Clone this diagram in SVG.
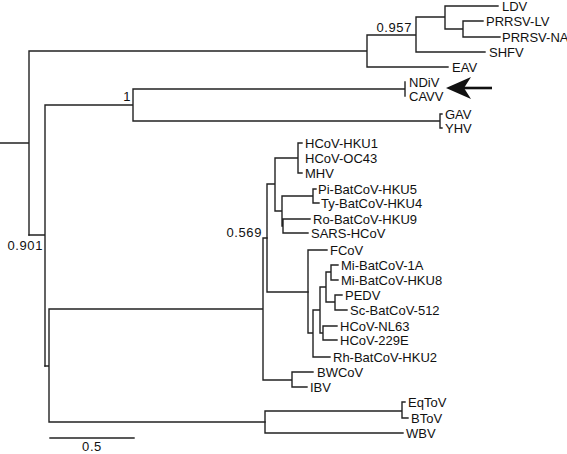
<svg xmlns="http://www.w3.org/2000/svg" width="567" height="454" viewBox="0 0 567 454">
<style>
.e{fill:none;stroke:#222;stroke-width:1.4;stroke-linecap:square}
.t{font-family:"Liberation Sans",Arial,sans-serif;font-size:13px;fill:#111}
.s{font-family:"Liberation Sans",Arial,sans-serif;font-size:13px;fill:#111;letter-spacing:0.6px}
</style>
<rect width="567" height="454" fill="#fff"/>
<g id="connectors">
<path class="e" d="M0,143H29M29,51V235M29,51H367M367,35V67M367,35H416M367,67H448M416,17V52M416,17H445M416,52H485M445,6V29M445,6H498M445,29H463M463,21V37M463,21H483M463,37H500"/>
<path class="e" d="M29,235H45M45,105V366M45,105H133M133,89V121M133,89H405M405,82V96M133,121H440M440,114V128M440,114H442M440,128H442"/>
<path class="e" d="M45,366H49M49,309V422M49,309H263M49,422H265M263,238V380M263,238H267M263,380H292M292,372V387M292,372H313M292,387H307"/>
<path class="e" d="M267,184V292M267,184H275M267,292H308M275,158V211M275,158H298M275,211H282M298,143V173M298,143H302M298,173H302M282,196V226M282,196H313M282,226H283M283,219V233M283,219H310M283,233H308M313,189V203M313,189H316M313,203H319"/>
<path class="e" d="M308,250V333M308,250H327M308,333H313M313,310V357M313,357H330M313,310H320M320,287V333M320,287H326M320,333H323M326,272V302M326,272H331M326,302H335M331,265V280M331,265H338M331,280H338M335,295V310M335,295H342M335,310H347M323,326V340M323,326H337M323,340H337"/>
<path class="e" d="M265,411V433M265,411H402M265,433H403M402,402V418M402,402H405M402,418H408"/>
<path class="e" d="M50,438H134"/>
<path fill="none" stroke="#111" stroke-width="2.6" d="M463,88H492"/>
<polygon fill="#111" points="446,88 471,77 464,88 471,99"/>
</g>
<g id="support">
<text class="s" x="412" y="32" text-anchor="end">0.957</text>
<text class="s" x="131" y="101" text-anchor="end">1</text>
<text class="s" x="262" y="237" text-anchor="end">0.569</text>
<text class="s" x="43" y="250" text-anchor="end">0.901</text>
<text class="s" x="92" y="450.5" text-anchor="middle">0.5</text>
</g>
<g id="LDV"><text class="t" x="502" y="11">LDV</text></g>
<g id="PRRSV-LV"><text class="t" x="486" y="25.5">PRRSV-LV</text></g>
<g id="PRRSV-NA"><text class="t" x="502" y="41.5">PRRSV-NA</text></g>
<g id="SHFV"><text class="t" x="489" y="56.5">SHFV</text></g>
<g id="EAV"><text class="t" x="452" y="71.5">EAV</text></g>
<g id="NDiV"><text class="t" x="409" y="86.5">NDiV</text></g>
<g id="CAVV"><text class="t" x="409" y="101">CAVV</text></g>
<g id="GAV"><text class="t" x="445" y="118.5">GAV</text></g>
<g id="YHV"><text class="t" x="445" y="133">YHV</text></g>
<g id="HCoV-HKU1"><text class="t" x="305" y="147.5">HCoV-HKU1</text></g>
<g id="HCoV-OC43"><text class="t" x="305" y="162.5">HCoV-OC43</text></g>
<g id="MHV"><text class="t" x="305" y="177.5">MHV</text></g>
<g id="Pi-BatCoV-HKU5"><text class="t" x="318" y="193.5">Pi-BatCoV-HKU5</text></g>
<g id="Ty-BatCoV-HKU4"><text class="t" x="321" y="207.5">Ty-BatCoV-HKU4</text></g>
<g id="Ro-BatCoV-HKU9"><text class="t" x="313" y="223.5">Ro-BatCoV-HKU9</text></g>
<g id="SARS-HCoV"><text class="t" x="311" y="237.5">SARS-HCoV</text></g>
<g id="FCoV"><text class="t" x="330" y="254.5">FCoV</text></g>
<g id="Mi-BatCoV-1A"><text class="t" x="341" y="269.5">Mi-BatCoV-1A</text></g>
<g id="Mi-BatCoV-HKU8"><text class="t" x="341" y="284.5">Mi-BatCoV-HKU8</text></g>
<g id="PEDV"><text class="t" x="345" y="299.5">PEDV</text></g>
<g id="Sc-BatCoV-512"><text class="t" x="350" y="314.5">Sc-BatCoV-512</text></g>
<g id="HCoV-NL63"><text class="t" x="340" y="330.5">HCoV-NL63</text></g>
<g id="HCoV-229E"><text class="t" x="340" y="344.5">HCoV-229E</text></g>
<g id="Rh-BatCoV-HKU2"><text class="t" x="333" y="361.5">Rh-BatCoV-HKU2</text></g>
<g id="BWCoV"><text class="t" x="317" y="376.5">BWCoV</text></g>
<g id="IBV"><text class="t" x="310" y="391.5">IBV</text></g>
<g id="EqToV"><text class="t" x="408" y="406.5">EqToV</text></g>
<g id="BToV"><text class="t" x="411" y="422.5">BToV</text></g>
<g id="WBV"><text class="t" x="406" y="437.5">WBV</text></g>
</svg>
